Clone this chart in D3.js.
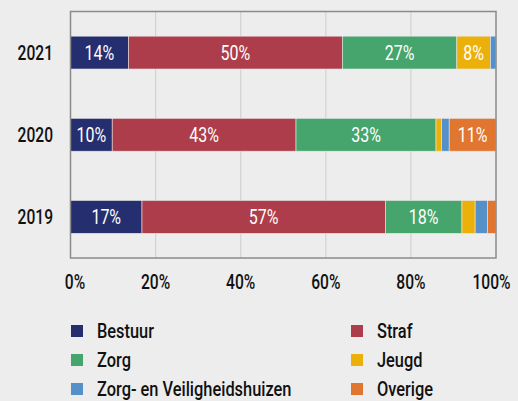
<!DOCTYPE html>
<html><head><meta charset="utf-8">
<script src="https://cdn.jsdelivr.net/npm/d3@7"></script>
<style>
html,body{margin:0;padding:0;background:#ededed;}
svg{display:block;font-family:Roboto,"Liberation Sans",sans-serif;}
</style></head>
<body><svg id="c" width="518" height="401"></svg>
<script>
const years = ["2021", "2020", "2019"];
const seriesNames = ["Bestuur", "Straf", "Zorg", "Jeugd", "Zorg- en Veiligheidshuizen", "Overige"];
const colors = ["#252e6f", "#ad3d4a", "#45a56d", "#ebb10a", "#5591c8", "#e07630"];
const bestuur = [13.6, 9.8, 16.8];
const straf = [50.3, 43.2, 57.2];
const zorg = [26.9, 32.9, 18.0];
const jeugd = [7.9, 1.3, 3.1];
const zvh = [1.3, 1.8, 2.9];
const overige = [0.0, 11.0, 2.0];
const ticks = [0, 20, 40, 60, 80, 100];

(function () {
const seriesVals = [bestuur, straf, zorg, jeugd, zvh, overige];
const table = years.map((yr, i) => {
  const o = {year: yr};
  seriesNames.forEach((s, k) => o[s] = seriesVals[k][i]);
  return o;
});

const svg = d3.select("#c");
const pLeft = 70.5, pRight = 496, pTop = 11.5, pBottom = 258;
const x = d3.scaleLinear().domain([0, 100]).range([pLeft, pRight]);
const y = d3.scaleBand().domain(years).range([pTop, pBottom]).paddingInner(0.6).paddingOuter(0.3);

function ctext(sel, fx, fy, sx) {
  return sel.attr("transform", (d, i) => `translate(${fx(d, i)},${fy(d, i)}) scale(${sx},1)`);
}

svg.append("g").selectAll("line").data(ticks.slice(1, -1)).join("line")
  .attr("x1", d => x(d)).attr("x2", d => x(d)).attr("y1", pTop).attr("y2", pBottom)
  .attr("stroke", "#d2d2d2").attr("stroke-width", 1.2);

const stack = d3.stack().keys(seriesNames)(table);
const g = svg.append("g");
stack.forEach((layer, k) => {
  g.append("g").attr("fill", colors[k]).selectAll("rect").data(layer).join("rect")
    .attr("x", d => x(d[0])).attr("width", d => Math.max(0, x(d[1]) - x(d[0])))
    .attr("y", d => y(d.data.year)).attr("height", y.bandwidth())
    .attr("stroke", "#e8e8e8").attr("stroke-width", 0.6);
});
stack.forEach((layer, k) => {
  const t = g.append("g").selectAll("text").data(layer.filter(d => d[1] - d[0] >= 5)).join("text")
    .attr("dy", "0.36em").attr("text-anchor", "middle")
    .attr("fill", "#ffffff").attr("font-size", 20.5).attr("font-weight", 400)
    .text(d => Math.round(d[1] - d[0]) + "%");
  ctext(t, d => x((d[0] + d[1]) / 2), d => y(d.data.year) + y.bandwidth() / 2, 0.78);
});

svg.append("rect").attr("x", pLeft).attr("y", pTop).attr("width", pRight - pLeft).attr("height", pBottom - pTop)
  .attr("fill", "none").attr("stroke", "#8a8a8a").attr("stroke-width", 1.5);

const yl = svg.append("g").selectAll("text").data(years).join("text")
  .attr("dy", "0.36em")
  .attr("text-anchor", "end").attr("font-size", 20).attr("font-weight", 500).attr("fill", "#111")
  .text(d => d);
ctext(yl, () => 53, d => y(d) + y.bandwidth() / 2, 0.78);

const tickShift = d => d === 0 ? 4.5 : (d === 100 ? -4.5 : 0);
const xl = svg.append("g").selectAll("text").data(ticks).join("text")
  .attr("dy", "0.36em")
  .attr("text-anchor", "middle").attr("font-size", 20).attr("font-weight", 500).attr("fill", "#111")
  .text(d => d + "%");
ctext(xl, d => x(d) + tickShift(d), () => 282, 0.78);

const lg = svg.append("g");
seriesNames.forEach((s, k) => {
  const col = k % 2, row = Math.floor(k / 2);
  const lx = col === 0 ? 71 : 351, ly = 331 + row * 29;
  lg.append("rect").attr("x", lx).attr("y", ly - 6).attr("width", 12).attr("height", 12).attr("fill", colors[k]);
  lg.append("text").attr("transform", `translate(${lx + 26},${ly}) scale(0.82,1)`).attr("dy", "0.36em")
    .attr("font-size", 20).attr("font-weight", 500).attr("fill", "#111").text(s);
});
})();
</script></body></html>
